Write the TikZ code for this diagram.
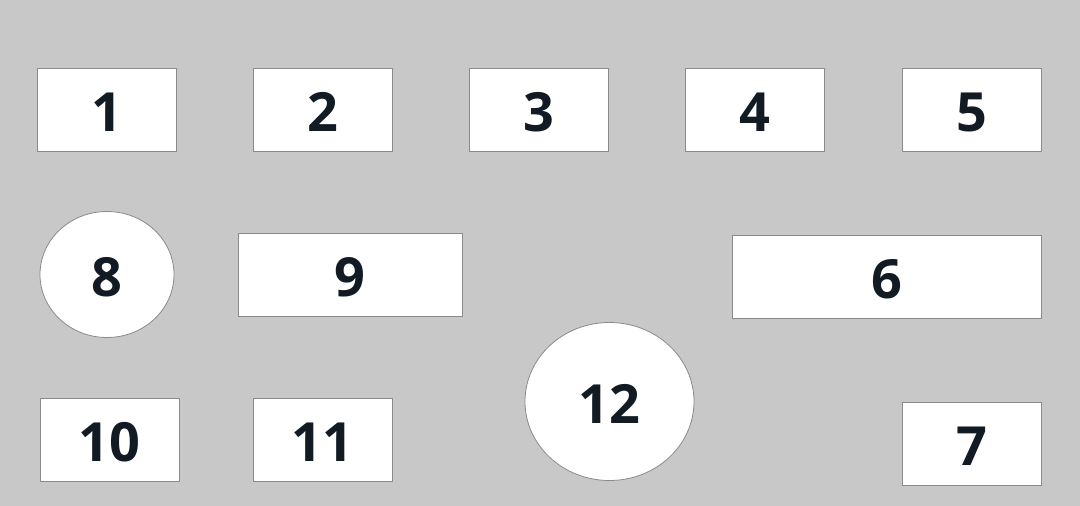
\documentclass[tikz,border=0pt]{standalone}
\usepackage{fontspec}
\setmainfont{Open Sans}
\usetikzlibrary{shapes.geometric}
\definecolor{bg}{HTML}{C8C8C8}
\definecolor{edge}{HTML}{8A8A8A}
\definecolor{ink}{HTML}{121B24}
\begin{document}
\begin{tikzpicture}[x=1pt,y=-1pt,
  shapebox/.style={draw=edge,fill=white,line width=0.8pt,inner sep=0pt},
  numtext/.style={font=\fontsize{54}{54}\selectfont\bfseries,text=ink,inner sep=0pt,text height=38pt,text depth=0pt,anchor=center}]
\fill[bg] (0,0) rectangle (1080,506);
\useasboundingbox (0,0) rectangle (1080,506);
% rectangles: name, x1,y1,x2,y2
\foreach \n/\xa/\ya/\xb/\yb in {1/37/68/176/151, 2/253/68/392/151, 3/469/68/608/151, 4/685/68/824/151, 5/902/68/1041/151, 9/238/233/462/316, 6/732/235/1041/318, 10/40/398/179/481, 11/253/398/392/481, 7/902/402/1041/485}{
  \node[shapebox,rectangle,minimum width={\xb-\xa},minimum height={\yb-\ya}] (b\n) at ({(\xa+\xb)/2},{(\ya+\yb)/2}) {};
  \node[numtext] (t\n) at ([yshift=-2.5pt]b\n.center) {\n};
}
\node[shapebox,ellipse,minimum width=134,minimum height=126] (b8) at (107,274.5) {};
\node[numtext] (t8) at ([yshift=-3pt]b8.center) {8};
\node[shapebox,ellipse,minimum width=169,minimum height=158] (b12) at (609.5,401.5) {};
\node[numtext] (t12) at ([yshift=-3pt]b12.center) {12};
\end{tikzpicture}
\end{document}
